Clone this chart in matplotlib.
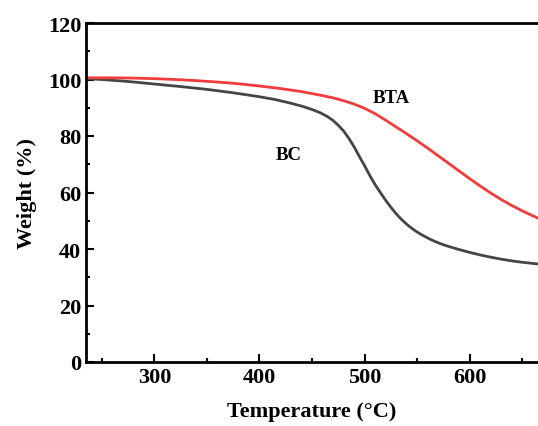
import matplotlib.pyplot as plt
from matplotlib.ticker import MultipleLocator

# TGA curves
bc_temp = [235, 250, 275, 300, 325, 350, 375, 400, 415, 430, 440, 450, 458, 465,
           470, 475, 480, 485, 490, 495, 500, 505, 510, 515, 520, 525, 530, 535,
           540, 545, 550, 555, 560, 565, 570, 575, 580, 590, 600, 610, 620, 630,
           640, 650, 665]
bc_weight = [100.3, 100.0, 99.3, 98.4, 97.5, 96.5, 95.3, 93.9, 92.9, 91.6, 90.6,
             89.4, 88.2, 86.8, 85.5, 83.8, 81.8, 79.2, 76.2, 72.8, 69.5, 66.0,
             62.8, 60.0, 57.3, 54.8, 52.5, 50.5, 48.8, 47.3, 46.0, 44.9, 43.9,
             43.0, 42.2, 41.5, 40.9, 39.8, 38.8, 37.9, 37.1, 36.4, 35.8, 35.3,
             34.7]

bta_temp = [235, 260, 280, 300, 320, 340, 360, 380, 400, 420, 440, 460, 470, 480,
            490, 500, 510, 520, 530, 540, 550, 560, 570, 580, 590, 600, 610, 620,
            630, 640, 650, 665]
bta_weight = [100.6, 100.6, 100.5, 100.3, 100.0, 99.6, 99.1, 98.5, 97.7, 96.8,
              95.7, 94.3, 93.5, 92.5, 91.3, 89.8, 87.9, 85.6, 83.2, 80.8, 78.3,
              75.7, 73.0, 70.3, 67.6, 64.9, 62.3, 59.8, 57.5, 55.4, 53.5, 50.9]

plt.rcParams['font.family'] = ['Liberation Serif', 'DejaVu Serif']
plt.rcParams['font.weight'] = 'bold'

fig = plt.figure(figsize=(5.38, 4.27), dpi=100)
ax = fig.add_axes([86/538, 64/427, 1 - 86/538, 339/427])

ax.plot(bc_temp, bc_weight, color='#454545', lw=2)
ax.plot(bta_temp, bta_weight, color='#f23c3c', lw=2)

ax.text(525, 93.8, 'BTA', fontsize=13.5, fontweight='bold', ha='center', va='center')
ax.text(428, 73.6, 'BC', fontsize=13.5, fontweight='bold', ha='center', va='center')

ax.set_xlim(235, 665)
ax.set_ylim(0, 120)
ax.xaxis.set_major_locator(MultipleLocator(100))
ax.xaxis.set_minor_locator(MultipleLocator(50))
ax.yaxis.set_major_locator(MultipleLocator(20))
ax.yaxis.set_minor_locator(MultipleLocator(10))
ax.tick_params(which='both', direction='in', width=1.5, labelsize=16)
ax.tick_params(which='major', length=6)
ax.tick_params(which='minor', length=3)
for lab in ax.get_xticklabels() + ax.get_yticklabels():
    lab.set_fontweight('bold')
for s in ['left', 'bottom', 'top']:
    ax.spines[s].set_linewidth(2)
ax.spines['right'].set_visible(False)

ax.set_xlabel('Temperature (°C)', fontsize=16, fontweight='bold', labelpad=10)
ax.set_ylabel('Weight (%)', fontsize=16, fontweight='bold', labelpad=8)

fig.savefig('out.png', dpi=100)
